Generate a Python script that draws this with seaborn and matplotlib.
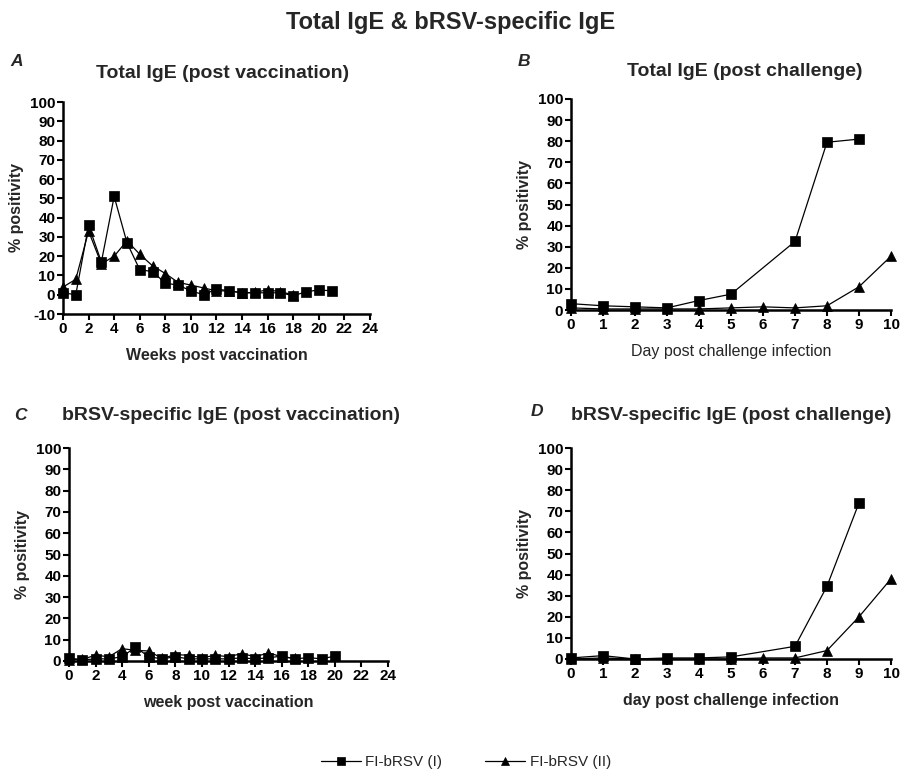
import numpy as np
import pandas as pd
import matplotlib
matplotlib.use("Agg")
import matplotlib.pyplot as plt
import seaborn as sns

sns.set_theme(style="ticks")
plt.rcParams['font.family'] = ['Liberation Sans', 'DejaVu Sans']
plt.rcParams['axes.unicode_minus'] = False

SERIES = ["FI-bRSV (I)", "FI-bRSV (II)"]

# Panel A: Total IgE post vaccination (weeks)
a_weeks_I = [0, 1, 2, 3, 4, 5, 6, 7, 8, 9, 10, 11, 12, 13, 14, 15, 16, 17, 18, 19, 20, 21]
a_vals_I = [1, 0, 36, 17, 51, 27, 13, 12, 6, 5, 2, 0, 3, 2, 1, 1, 1, 1, -0.5, 1.5, 2.5, 2]
a_weeks_II = [0, 1, 2, 3, 4, 5, 6, 7, 8, 9, 10, 11, 12, 13, 14, 15, 16, 17, 18]
a_vals_II = [4, 8, 33, 16, 20, 28, 21, 15, 11, 6.4, 5, 3.5, 2, 2, 1, 1.2, 2.6, 1.5, 0]

# Panel B: Total IgE post challenge (days)
b_days_I = [0, 1, 2, 3, 4, 5, 7, 8, 9]
b_vals_I = [3, 2, 1.5, 1, 4.5, 7.5, 32.5, 79.5, 81]
b_days_II = [0, 1, 2, 3, 4, 5, 6, 7, 8, 9, 10]
b_vals_II = [1, 0.5, 0.5, 0.5, 0.5, 1, 1.5, 1, 2, 11, 25.5]

# Panel C: bRSV-specific IgE post vaccination (weeks)
c_weeks_I = list(range(0, 21))
c_vals_I = [1.5, 0.5, 1, 1, 2, 6.5, 2, 1, 2, 1, 1, 1, 1, 1.5, 1, 1.5, 2.3, 1, 1.6, 1, 2.3]
c_weeks_II = list(range(0, 18))
c_vals_II = [0.5, 0.8, 2.7, 2, 5.8, 5, 4.7, 1.2, 3, 2.7, 1.5, 2.7, 2, 3.5, 2, 3.8, 2, 1.2]

# Panel D: bRSV-specific IgE post challenge (days)
d_days_I = [0, 1, 2, 3, 4, 5, 7, 8, 9]
d_vals_I = [0.5, 1.6, 0, 0.5, 0.5, 1, 6, 34.5, 74]
d_days_II = [0, 1, 2, 3, 4, 5, 6, 7, 8, 9, 10]
d_vals_II = [0, 0.5, 0, 0, 0, 0, 0.5, 0.5, 4, 20, 38]


def frame(x1, y1, x2, y2):
    return pd.concat([
        pd.DataFrame({"x": x1, "y": y1, "series": SERIES[0]}),
        pd.DataFrame({"x": x2, "y": y2, "series": SERIES[1]}),
    ], ignore_index=True)


W, H = 901, 770
fig = plt.figure(figsize=(W / 100, H / 100), dpi=100)


def px_axes(left, right, top, bottom):
    return fig.add_axes([left / W, 1 - bottom / H, (right - left) / W, (bottom - top) / H])


panels = [
    dict(df=frame(a_weeks_I, a_vals_I, a_weeks_II, a_vals_II), box=(63, 370, 102, 314),
         xlim=(0, 24), ylim=(-10, 100), xt=np.arange(0, 25, 2), yt=np.arange(-10, 101, 10),
         xlabel="Weeks post vaccination", xbold=True),
    dict(df=frame(b_days_I, b_vals_I, b_days_II, b_vals_II), box=(571, 891, 99, 310),
         xlim=(0, 10), ylim=(0, 100), xt=np.arange(0, 11, 1), yt=np.arange(0, 101, 10),
         xlabel="Day post challenge infection", xbold=False),
    dict(df=frame(c_weeks_I, c_vals_I, c_weeks_II, c_vals_II), box=(69, 388, 448, 661),
         xlim=(0, 24), ylim=(0, 100), xt=np.arange(0, 25, 2), yt=np.arange(0, 101, 10),
         xlabel="week post vaccination", xbold=True),
    dict(df=frame(d_days_I, d_vals_I, d_days_II, d_vals_II), box=(571, 891, 448, 659),
         xlim=(0, 10), ylim=(0, 100), xt=np.arange(0, 11, 1), yt=np.arange(0, 101, 10),
         xlabel="day post challenge infection", xbold=True),
]

handles = labels = None
for p in panels:
    ax = px_axes(*p["box"])
    sns.lineplot(data=p["df"], x="x", y="y", style="series",
                 markers={SERIES[0]: "s", SERIES[1]: "^"}, dashes=False,
                 color="black", linewidth=0.9, markersize=7.5,
                 markeredgecolor="black", markeredgewidth=0.5,
                 clip_on=False, ax=ax, zorder=3)
    if handles is None:
        handles, labels = ax.get_legend_handles_labels()
    if ax.get_legend() is not None:
        ax.get_legend().remove()
    ax.set_xlim(*p["xlim"])
    ax.set_ylim(*p["ylim"])
    ax.set_xticks(p["xt"])
    ax.set_yticks(p["yt"])
    sns.despine(ax=ax)
    for s in ("left", "bottom"):
        ax.spines[s].set_linewidth(1.8)
        ax.spines[s].set_color("black")
    ax.tick_params(axis="both", direction="out", length=4, width=1.5, colors="black",
                   labelsize=11, pad=1.5)
    for t in ax.get_xticklabels() + ax.get_yticklabels():
        t.set_fontweight("bold")
    ax.set_xlabel(p["xlabel"], fontsize=11.5, fontweight="bold" if p["xbold"] else "normal",
                  labelpad=9)
    ax.set_ylabel("% positivity", fontsize=11.5, fontweight="bold", labelpad=4)

# Titles and panel letters
fig.text(451 / W, 1 - 22 / H, "Total IgE & bRSV-specific IgE", ha="center", va="center",
         fontsize=17, fontweight="bold")
titles = [
    ("A", 10, 62, "Total IgE (post vaccination)", 223, 73),
    ("B", 518, 62, "Total IgE (post challenge)", 745, 72),
    ("C", 14, 415, "bRSV-specific IgE (post vaccination)", 231, 415),
    ("D", 531, 412, "bRSV-specific IgE (post challenge)", 731, 415),
]
for letter, lx, ly, title, tx, ty in titles:
    fig.text(lx / W, 1 - ly / H, letter, ha="left", va="center", fontsize=12.5,
             fontweight="bold", fontstyle="italic")
    fig.text(tx / W, 1 - ty / H, title, ha="center", va="center", fontsize=14,
             fontweight="bold")

fig.legend(handles, labels, loc="center", bbox_to_anchor=(466 / W, 1 - 762 / H), ncol=2,
           frameon=False, fontsize=11, handlelength=2.6, columnspacing=2.8,
           handletextpad=0.3, markerscale=0.7)

fig.savefig("out.png", dpi=100)
